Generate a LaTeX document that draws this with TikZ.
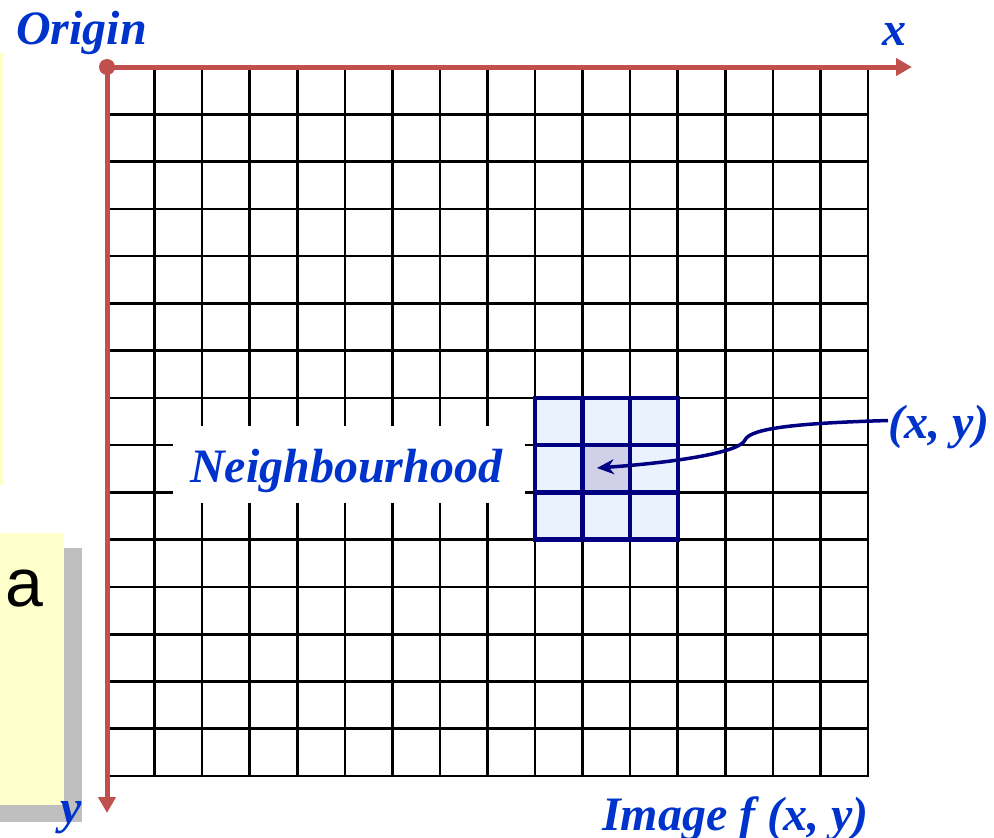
\documentclass[tikz,border=0pt]{standalone}
\usepackage{fontspec}
\setmainfont{Liberation Serif}
\newfontfamily\arialfont{Liberation Sans}
\usetikzlibrary{arrows.meta}
\definecolor{axisred}{HTML}{C0504D}
\definecolor{lblblue}{HTML}{0033CC}
\definecolor{navyline}{HTML}{000080}
\definecolor{cellblue}{HTML}{EAF3FD}
\definecolor{cellmid}{HTML}{D0D0E8}
\definecolor{noteyellow}{HTML}{FFFFCC}
\definecolor{shadowgray}{HTML}{BFBFBF}
\begin{document}
\begin{tikzpicture}[x=1pt,y=-1pt,
  gridline/.style={line width=2.6pt, black, line cap=rect},
  nbline/.style={line width=4.5pt, navyline, line cap=rect},
  axis/.style={line width=5pt, axisred, -{Triangle[length=16pt,width=17pt]}},
  lbl/.style={font=\fontsize{48}{52}\selectfont\bfseries\itshape, text=lblblue, inner sep=0pt},
  ]
\useasboundingbox (0,0) rectangle (994,838);
% left notes
\fill[noteyellow] (0,53) rectangle (2.5,485);
\fill[shadowgray] (0,548) rectangle (82,822);
\fill[noteyellow] (0,533) rectangle (64,805);
\node[anchor=base west, inner sep=0pt, font=\arialfont\fontsize{68}{78}\selectfont] (note) at (5,606) {a};
% grid
\foreach \i in {1,...,16} \draw[gridline] ({107+\i*47.5625},67) -- ({107+\i*47.5625},776);
\foreach \j in {1,...,15} \draw[gridline] (107,{67+\j*47.2667}) -- (868,{67+\j*47.2667});
% neighbourhood label box
\node[fill=white, minimum width=352pt, minimum height=77pt, inner sep=0pt] (nbbox) at (349,464.5) {};
\node[lbl, anchor=base west] (nb) at (190,482) {Neighbourhood};
% neighbourhood cells
\fill[cellblue] (535.06,397.87) rectangle (677.75,539.67);
\fill[cellmid] (582.62,445.13) rectangle (630.19,492.4);
\foreach \k in {0,...,3} {
  \draw[nbline] ({535.06+\k*47.5625},397.87) -- ({535.06+\k*47.5625},539.67);
  \draw[nbline] (535.06,{397.87+\k*47.2667}) -- (677.75,{397.87+\k*47.2667});
}
% axes
\coordinate (origin) at (107,67);
\coordinate (xend) at (912,67);
\coordinate (yend) at (107,813);
\draw[axis] (origin) -- (xend);
\draw[axis] (origin) -- (yend);
\fill[axisred] (origin) circle (8pt);
% labels
\node[lbl, anchor=base west] (originlbl) at (16,44) {Origin};
\node[lbl, anchor=base west] (xlbl) at (882,45) {x};
\node[lbl, anchor=base west] (ylbl) at (60,823) {y};
\node[lbl, anchor=base west] (imglbl) at (602,830) {Image f (x, y)};
\node[lbl, anchor=base west] (xylbl) at (888,438) {(x, y)};
\coordinate (target) at (597,468);
\draw[navyline, line width=3.5pt, -{Stealth[length=17pt,width=15pt]}]
  ([yshift=6pt]xylbl.west) .. controls (800,423) and (750,428) .. (745,440)
  .. controls (740,452) and (680,462) .. (target);
\end{tikzpicture}
\end{document}
